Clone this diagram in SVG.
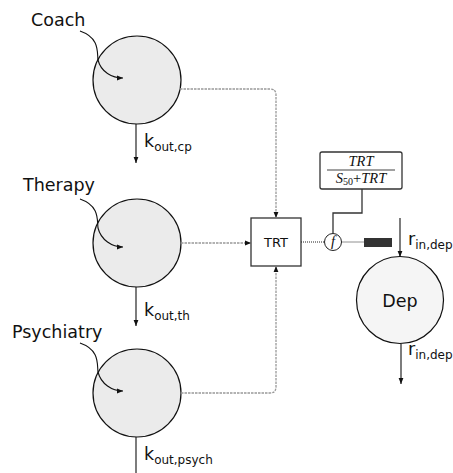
<svg xmlns="http://www.w3.org/2000/svg" width="453" height="473" viewBox="0 0 453 473">
<style>
text{font-family:"DejaVu Sans","Verdana",sans-serif;fill:#111}
.lbl{font-size:17.5px}
.sub{font-size:12px}
.comp{fill:#ebebeb;stroke:#111;stroke-width:1.2}
.dash{fill:none;stroke:#999;stroke-width:1.3;stroke-dasharray:2.5,1}
.dot{fill:none;stroke:#222;stroke-width:1;stroke-dasharray:1,1}
.solid{fill:none;stroke:#111;stroke-width:1.1}
.box{fill:#fff;stroke:#333;stroke-width:1.3}
.math{font-family:"Liberation Serif","DejaVu Serif",serif;font-style:italic;font-size:14.5px}
</style>
<defs>
<marker id="ah" viewBox="0 0 6 6" refX="6" refY="3" markerWidth="6" markerHeight="6" orient="auto" markerUnits="userSpaceOnUse">
<path d="M0,0.6 L6,3 L0,5.4 Z" fill="#111"/>
</marker>
</defs>
<rect width="453" height="473" fill="#fff"/>
<g id="coach">
<circle class="comp" cx="137" cy="80" r="44"/>
<text class="lbl" x="31" y="26">Coach</text>
<text class="lbl" x="144" y="147">k<tspan class="sub" dy="4">out,cp</tspan></text>
</g>
<g id="therapy">
<circle class="comp" cx="137" cy="243" r="44"/>
<text class="lbl" x="23" y="191">Therapy</text>
<text class="lbl" x="144" y="316">k<tspan class="sub" dy="4">out,th</tspan></text>
</g>
<g id="psychiatry">
<circle class="comp" cx="137" cy="393" r="44"/>
<text class="lbl" x="12" y="338">Psychiatry</text>
<text class="lbl" x="144" y="460">k<tspan class="sub" dy="4">out,psych</tspan></text>
</g>
<g id="trt">
<rect class="box" x="251" y="218" width="50" height="48"/>
<text x="276" y="247" font-size="13" text-anchor="middle">TRT</text>
</g>
<g id="emax">
<rect class="box" x="320" y="152" width="82" height="37" rx="2"/>
<text class="math" x="361" y="166" text-anchor="middle">TRT</text>
<line x1="327" y1="170" x2="395" y2="170" stroke="#111" stroke-width="0.8"/>
<text class="math" x="361" y="183" text-anchor="middle">S<tspan font-size="10" font-style="normal" dy="2">50</tspan><tspan font-style="normal" dy="-2">+</tspan>TRT</text>
</g>
<g id="f">
<circle cx="333" cy="242" r="8.5" fill="#fff" stroke="#222" stroke-width="1"/>
<text class="math" x="333" y="246" font-size="11" text-anchor="middle">f</text>
</g>
<g id="effect">
<rect x="364" y="238" width="28" height="9" fill="#333"/>
</g>
<g id="dep">
<circle cx="400" cy="300" r="43.5" fill="#f5f5f5" stroke="#111" stroke-width="1.2"/>
<text class="lbl" x="400" y="307" text-anchor="middle">Dep</text>
<text class="lbl" x="408" y="245">r<tspan class="sub" dy="4">in,dep</tspan></text>
<text class="lbl" x="408" y="355">r<tspan class="sub" dy="4">in,dep</tspan></text>
</g>
<g id="connectors">
<path class="dash" d="M180,89 H270 Q276,89 276,95 V218" marker-end="url(#ah)"/>
<path class="dash" d="M181,243 H251" marker-end="url(#ah)"/>
<path class="dash" d="M181,393 H270 Q276,393 276,387 V266" marker-end="url(#ah)"/>
<path class="solid" d="M80,31 C100,38 97,52 98,60 C101,72 112,78 123,78" marker-end="url(#ah)"/>
<path class="solid" d="M80,199 C100,206 97,220 98,228 C101,240 112,247 123,247" marker-end="url(#ah)"/>
<path class="solid" d="M80,343 C100,350 97,364 98,372 C101,384 112,391 123,391" marker-end="url(#ah)"/>
<path class="solid" d="M136,124 V163" marker-end="url(#ah)"/>
<path class="solid" d="M136,287 V326" marker-end="url(#ah)"/>
<path class="solid" d="M136,437 V475"/>
<path class="dot" d="M301,242 H324.5"/>
<path class="dot" d="M341.5,242 H364"/>
<path d="M362,189 V213 H333 V233.5" fill="none" stroke="#333" stroke-width="1.3"/>
<path class="solid" d="M400,218 V257" marker-end="url(#ah)"/>
<path class="solid" d="M401,344 V384" marker-end="url(#ah)"/>
</g>
</svg>
